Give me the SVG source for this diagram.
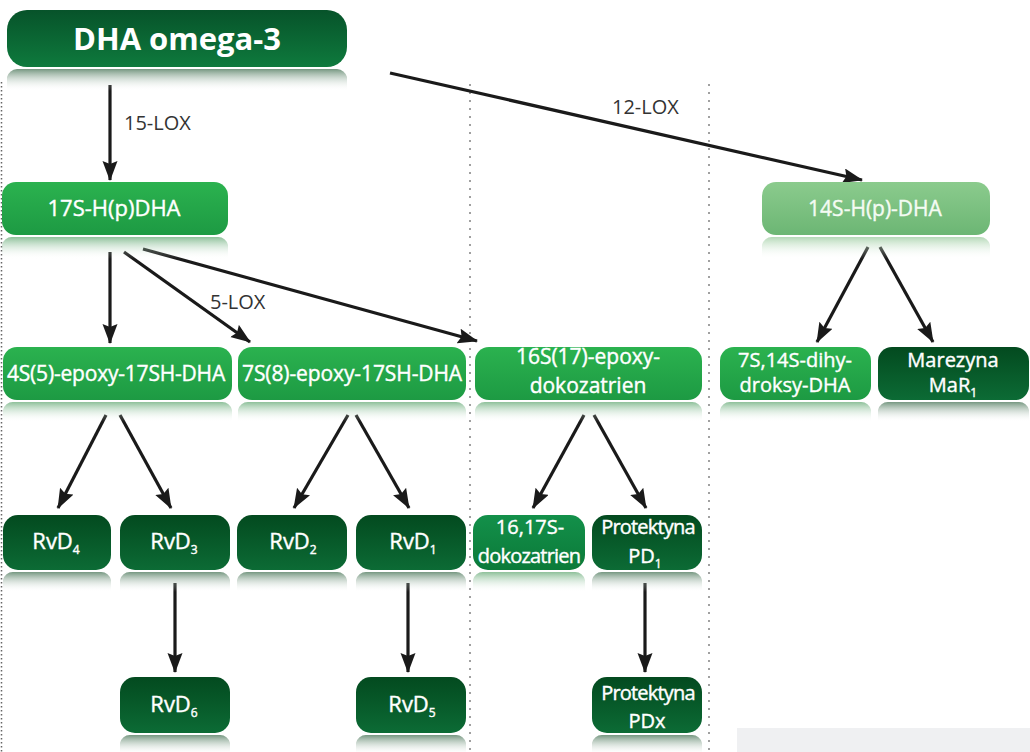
<svg xmlns="http://www.w3.org/2000/svg" width="1030" height="752" viewBox="0 0 1030 752">
<defs>
<linearGradient id="gHead" x1="0" y1="0" x2="0" y2="1"><stop offset="0" stop-color="#07532a"/><stop offset="1" stop-color="#0e7a3d"/></linearGradient>
<linearGradient id="gDark" x1="0" y1="0" x2="0" y2="1"><stop offset="0" stop-color="#034a1f"/><stop offset="1" stop-color="#0c6b35"/></linearGradient>
<linearGradient id="gBright" x1="0" y1="0" x2="0" y2="1"><stop offset="0" stop-color="#2bb24f"/><stop offset="1" stop-color="#1d9a43"/></linearGradient>
<linearGradient id="gLight" x1="0" y1="0" x2="0" y2="1"><stop offset="0" stop-color="#8bcb8d"/><stop offset="1" stop-color="#6cb674"/></linearGradient>
<linearGradient id="gMed" x1="0" y1="0" x2="0" y2="1"><stop offset="0" stop-color="#13904a"/><stop offset="1" stop-color="#0b7a39"/></linearGradient>
<linearGradient id="rDark" x1="0" y1="0" x2="0" y2="1"><stop offset="0" stop-color="#3a6a4a" stop-opacity="0.7"/><stop offset="1" stop-color="#ffffff" stop-opacity="0"/></linearGradient>
<linearGradient id="rBright" x1="0" y1="0" x2="0" y2="1"><stop offset="0" stop-color="#4f9e62" stop-opacity="0.65"/><stop offset="1" stop-color="#ffffff" stop-opacity="0"/></linearGradient>
<linearGradient id="rLight" x1="0" y1="0" x2="0" y2="1"><stop offset="0" stop-color="#94c898" stop-opacity="0.7"/><stop offset="1" stop-color="#ffffff" stop-opacity="0"/></linearGradient>
<marker id="ah" markerUnits="userSpaceOnUse" markerWidth="22" markerHeight="16" refX="19" refY="7.5" orient="auto"><path d="M0,0 L20,7.5 L0,15 L3,7.5 z" fill="#1a1a1a"/></marker>
<style>
.t{font-family:"Open Sans","Liberation Sans",sans-serif;font-weight:400;fill:#fff;stroke:#fff;stroke-width:0.4;text-anchor:middle;font-size:21px}
.sub{font-size:12px}
.rv{font-size:22px}
.lbl{font-family:"Open Sans","Liberation Sans",sans-serif;font-size:20px;fill:#333}
.ar{stroke:#1a1a1a;stroke-width:3.2;fill:none;marker-end:url(#ah)}
.dot{stroke:#a0a0a0;stroke-width:2;stroke-dasharray:2 6;fill:none}
.dark{fill:url(#gDark)}
.bright{fill:url(#gBright)}
.light{fill:url(#gLight)}
.med{fill:url(#gMed)}
.rd{fill:url(#rDark)}
.rb{fill:url(#rBright)}
.rl{fill:url(#rLight)}
</style>
</defs>
<rect width="1030" height="752" fill="#fff"/>
<rect x="737" y="728" width="293" height="24" fill="#eff0f2"/>
<g id="grid">
<line x1="1.5" y1="82" x2="1.5" y2="752" stroke="#666" stroke-width="1.5" stroke-dasharray="1.5 2.5"/>
<line class="dot" x1="470" y1="84" x2="470" y2="752"/>
<line class="dot" x1="709" y1="84" x2="709" y2="752"/>
</g>
<g id="connectors">
<line class="ar" x1="110" y1="85" x2="110" y2="180"/>
<line class="ar" x1="390" y1="73" x2="862" y2="180"/>
<line class="ar" x1="110" y1="252" x2="110" y2="343"/>
<line class="ar" x1="124" y1="252" x2="250" y2="342"/>
<line class="ar" x1="143" y1="249" x2="477" y2="341"/>
<line class="ar" x1="868" y1="247" x2="817" y2="342"/>
<line class="ar" x1="880" y1="247" x2="933" y2="342"/>
<line class="ar" x1="106" y1="415" x2="58" y2="508"/>
<line class="ar" x1="120" y1="415" x2="171" y2="508"/>
<line class="ar" x1="348" y1="415" x2="294" y2="508"/>
<line class="ar" x1="356" y1="415" x2="409" y2="508"/>
<line class="ar" x1="584" y1="415" x2="533" y2="508"/>
<line class="ar" x1="594" y1="415" x2="646" y2="508"/>
<line class="ar" x1="175" y1="583" x2="175" y2="672"/>
<line class="ar" x1="408" y1="583" x2="408" y2="672"/>
<line class="ar" x1="645" y1="583" x2="645" y2="672"/>
<text class="lbl" x="124" y="130">15-LOX</text>
<text class="lbl" x="612" y="114">12-LOX</text>
<text class="lbl" x="210" y="309">5-LOX</text>
</g>
<g id="n-dha">
<path class="rd" d="M17,69 h320 a12,12 0 0 1 10,8 v14 h-340 v-14 a12,12 0 0 1 10,-8 z"/>
<rect x="7" y="10" width="340" height="57" rx="20" fill="url(#gHead)"/>
<text class="t" x="177" y="50" style="font-size:31px;font-weight:700;stroke-width:0">DHA omega-3</text>
</g>
<g id="n-17s">
<path class="rb" d="M12,237 h206 a10,10 0 0 1 10,8 v14 h-226 v-14 a10,10 0 0 1 10,-8 z"/>
<rect class="bright" x="2" y="182" width="226" height="53" rx="14"/>
<text class="t" x="114" y="216" style="font-size:22px">17S-H(p)DHA</text>
</g>
<g id="n-14s">
<path class="rl" d="M772,237 h208 a10,10 0 0 1 10,8 v14 h-228 v-14 a10,10 0 0 1 10,-8 z"/>
<rect class="light" x="762" y="182" width="228" height="53" rx="14"/>
<text class="t" x="875" y="216" style="fill:#f4fbf3;stroke:#f4fbf3">14S-H(p)-DHA</text>
</g>
<g id="n-4s5">
<path class="rb" d="M13,402 h209 a10,10 0 0 1 10,8 v12 h-229 v-12 a10,10 0 0 1 10,-8 z"/>
<rect class="bright" x="3" y="347" width="229" height="53" rx="14"/>
<text class="t" x="116" y="381" style="letter-spacing:-0.2px">4S(5)-epoxy-17SH-DHA</text>
</g>
<g id="n-7s8">
<path class="rb" d="M248,402 h208 a10,10 0 0 1 10,8 v12 h-228 v-12 a10,10 0 0 1 10,-8 z"/>
<rect class="bright" x="238" y="347" width="228" height="53" rx="14"/>
<text class="t" x="352" y="381" style="letter-spacing:-0.1px">7S(8)-epoxy-17SH-DHA</text>
</g>
<g id="n-16s17">
<path class="rb" d="M485,402 h207 a10,10 0 0 1 10,8 v12 h-227 v-12 a10,10 0 0 1 10,-8 z"/>
<rect class="bright" x="475" y="347" width="227" height="53" rx="14"/>
<text class="t" x="588" y="364">16S(17)-epoxy-</text>
<text class="t" x="588" y="393">dokozatrien</text>
</g>
<g id="n-7s14s">
<path class="rb" d="M730,402 h131 a10,10 0 0 1 10,8 v12 h-151 v-12 a10,10 0 0 1 10,-8 z"/>
<rect class="bright" x="720" y="347" width="151" height="53" rx="14"/>
<text class="t" x="795" y="367" style="font-size:20px">7S,14S-dihy-</text>
<text class="t" x="795" y="392" style="font-size:20px">droksy-DHA</text>
</g>
<g id="n-mar">
<path class="rd" d="M888,402 h131 a10,10 0 0 1 10,8 v12 h-151 v-12 a10,10 0 0 1 10,-8 z"/>
<rect class="dark" x="878" y="347" width="151" height="53" rx="14"/>
<text class="t" x="953" y="367" style="font-size:20px">Marezyna</text>
<text class="t" x="953" y="392" style="font-size:20px">MaR<tspan class="sub" dy="5">1</tspan></text>
</g>
<g id="n-rvd4">
<path class="rd" d="M13,572 h88 a10,10 0 0 1 10,8 v12 h-108 v-12 a10,10 0 0 1 10,-8 z"/>
<rect class="dark" x="3" y="515" width="108" height="55" rx="15"/>
<text class="t rv" x="56" y="549">RvD<tspan class="sub" dy="5">4</tspan></text>
</g>
<g id="n-rvd3">
<path class="rd" d="M130,572 h90 a10,10 0 0 1 10,8 v12 h-110 v-12 a10,10 0 0 1 10,-8 z"/>
<rect class="dark" x="120" y="515" width="110" height="55" rx="15"/>
<text class="t rv" x="174" y="549">RvD<tspan class="sub" dy="5">3</tspan></text>
</g>
<g id="n-rvd2">
<path class="rd" d="M247,572 h90 a10,10 0 0 1 10,8 v12 h-110 v-12 a10,10 0 0 1 10,-8 z"/>
<rect class="dark" x="237" y="515" width="110" height="55" rx="15"/>
<text class="t rv" x="293" y="549">RvD<tspan class="sub" dy="5">2</tspan></text>
</g>
<g id="n-rvd1">
<path class="rd" d="M366,572 h90 a10,10 0 0 1 10,8 v12 h-110 v-12 a10,10 0 0 1 10,-8 z"/>
<rect class="dark" x="356" y="515" width="110" height="55" rx="15"/>
<text class="t rv" x="413" y="549">RvD<tspan class="sub" dy="5">1</tspan></text>
</g>
<g id="n-1617s">
<path class="rb" d="M483,572 h92 a10,10 0 0 1 10,8 v12 h-112 v-12 a10,10 0 0 1 10,-8 z"/>
<rect class="med" x="473" y="515" width="112" height="55" rx="15"/>
<text class="t" x="530" y="534" style="font-size:20px">16,17S-</text>
<text class="t" x="529" y="563" style="font-size:20px;letter-spacing:-0.8px">dokozatrien</text>
</g>
<g id="n-pd1">
<path class="rd" d="M602,572 h90 a10,10 0 0 1 10,8 v12 h-110 v-12 a10,10 0 0 1 10,-8 z"/>
<rect class="dark" x="592" y="515" width="110" height="55" rx="15"/>
<text class="t" x="648" y="534" style="font-size:20px;letter-spacing:-0.8px">Protektyna</text>
<text class="t" x="645" y="563" style="font-size:20px">PD<tspan class="sub" dy="5">1</tspan></text>
</g>
<g id="n-rvd6">
<path class="rd" d="M130,735 h90 a10,10 0 0 1 10,8 v12 h-110 v-12 a10,10 0 0 1 10,-8 z"/>
<rect class="dark" x="120" y="677" width="110" height="56" rx="15"/>
<text class="t rv" x="174" y="712">RvD<tspan class="sub" dy="5">6</tspan></text>
</g>
<g id="n-rvd5">
<path class="rd" d="M366,735 h90 a10,10 0 0 1 10,8 v12 h-110 v-12 a10,10 0 0 1 10,-8 z"/>
<rect class="dark" x="356" y="677" width="110" height="56" rx="15"/>
<text class="t rv" x="412" y="712">RvD<tspan class="sub" dy="5">5</tspan></text>
</g>
<g id="n-pdx">
<path class="rd" d="M602,735 h90 a10,10 0 0 1 10,8 v12 h-110 v-12 a10,10 0 0 1 10,-8 z"/>
<rect class="dark" x="592" y="677" width="110" height="56" rx="15"/>
<text class="t" x="648" y="700" style="font-size:20px;letter-spacing:-0.8px">Protektyna</text>
<text class="t" x="647" y="728" style="font-size:20px">PDx</text>
</g>
</svg>
